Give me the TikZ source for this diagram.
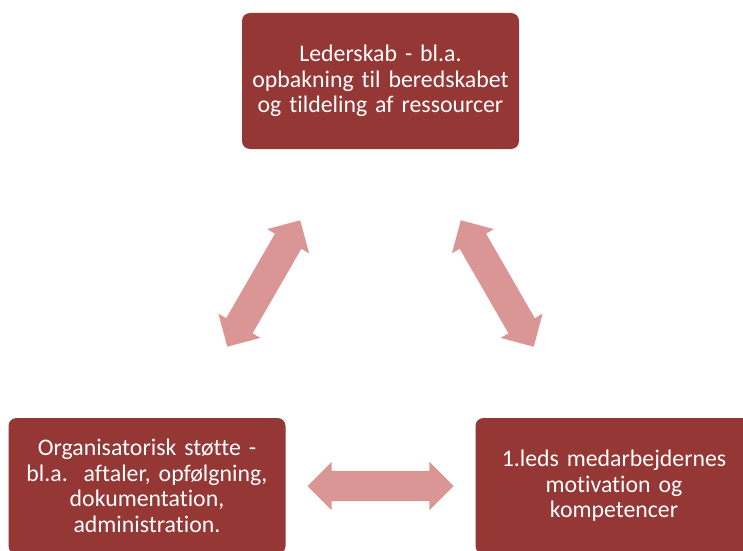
\documentclass[tikz,border=0pt]{standalone}
\usepackage{fontspec}
\setmainfont{Carlito}[Ligatures=NoCommon]
\usetikzlibrary{shapes.arrows}
\definecolor{boxred}{HTML}{953735}
\definecolor{arrowpink}{HTML}{D99694}
\tikzset{
  factor/.style={fill=boxred, rounded corners=8pt, minimum width=277pt, minimum height=136pt,
    text width=270pt, align=center, text=white, inner sep=0pt,
    font=\fontsize{23.8}{25.6}\selectfont},
  link/.style={double arrow, fill=arrowpink, minimum height=146pt, minimum width=48pt,
    inner xsep=0pt, inner ysep=15pt, double arrow head extend=9pt, midway, sloped}
}
\begin{document}
\begin{tikzpicture}[x=1pt,y=1pt]
    % Frame of the picture
    \clip (0,0) rectangle (743,550);

    % The three boxes
    \node[factor] (lead) at (380.5,469) {Lederskab - bl.a.\\ opbakning til beredskabet\\ og tildeling af ressourcer};
    \node[factor] (org) at (147,64) {Organisatorisk støtte -\\ bl.a.\ \ aftaler, opfølgning,\\ dokumentation,\\ administration.};
    \node[factor] (staff) at (614,64) {1.leds medarbejdernes\\ motivation og\\ kompetencer};

    % Double arrows between the boxes
    \path (org.center) -- (lead.center) node[link] (orglead) {};
    \path (lead.center) -- (staff.center) node[link] (leadstaff) {};
    \path (org.center) -- (staff.center) node[link] (orgstaff) {};
\end{tikzpicture}
\end{document}
